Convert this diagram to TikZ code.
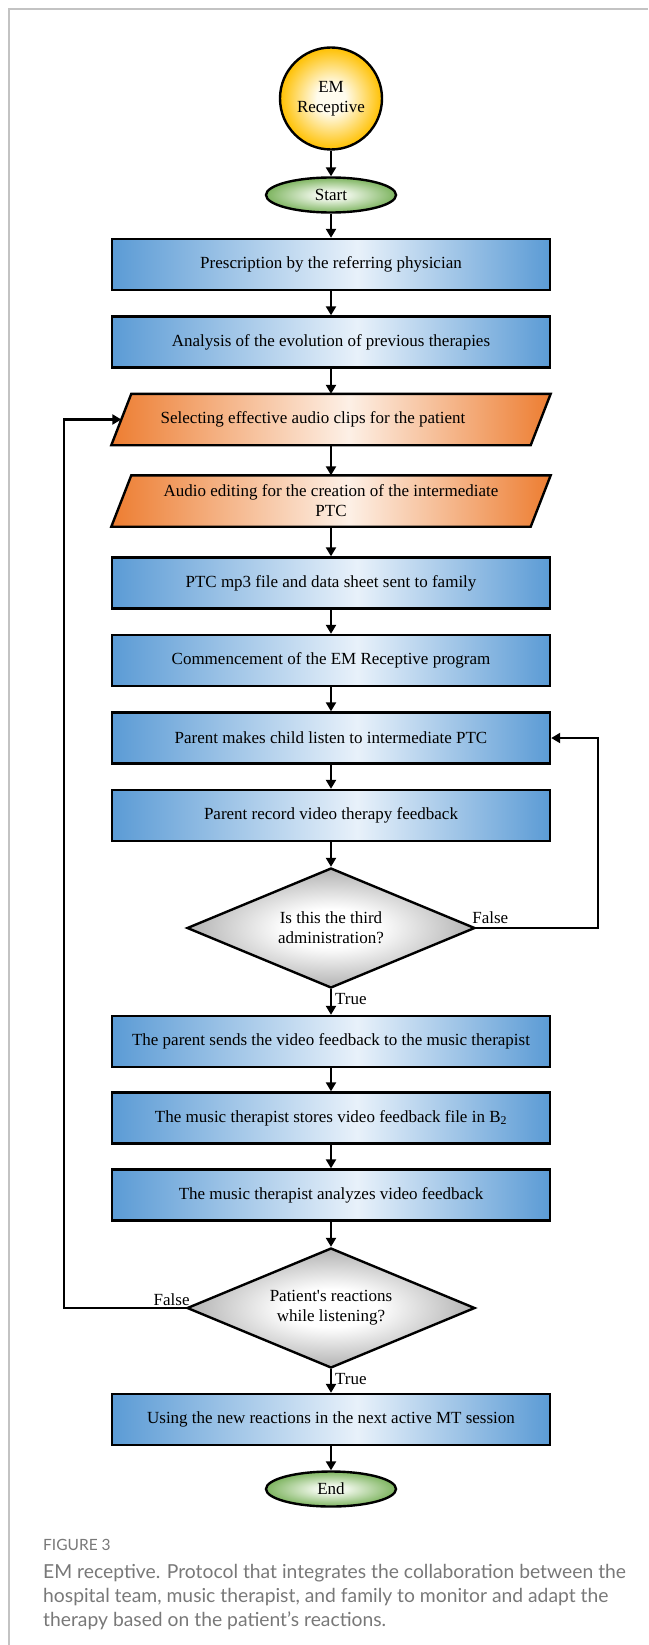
\documentclass[tikz,border=0pt]{standalone}
\usepackage{fontspec}
\setmainfont{Liberation Serif}[Ligatures=TeXOff]
\newfontfamily\capfont{Lato}
\usetikzlibrary{arrows.meta,calc,shapes.geometric,backgrounds}

% palette
\definecolor{boxblue}{RGB}{91,155,213}
\definecolor{boxlight}{RGB}{232,241,250}
\definecolor{paraorange}{RGB}{237,125,49}
\definecolor{paralight}{RGB}{253,240,230}
\definecolor{termgreen}{RGB}{125,180,95}
\definecolor{termlight}{RGB}{238,246,232}
\definecolor{emgold}{RGB}{255,192,0}
\definecolor{emlight}{RGB}{255,252,238}
\definecolor{decgray}{RGB}{178,178,178}
\definecolor{framegray}{RGB}{195,195,195}
\definecolor{capgray}{RGB}{120,120,120}

% fills
\pgfdeclarehorizontalshading{boxshade}{100bp}{color(0bp)=(boxblue); color(25bp)=(boxblue); color(53bp)=(boxlight); color(75bp)=(boxblue); color(100bp)=(boxblue)}
\pgfdeclarehorizontalshading{parashade}{100bp}{color(0bp)=(paraorange); color(25bp)=(paraorange); color(52bp)=(paralight); color(75bp)=(paraorange); color(100bp)=(paraorange)}
\pgfdeclareradialshading{emshade}{\pgfpoint{0bp}{0bp}}{color(0bp)=(emlight); color(7bp)=(emlight); color(25bp)=(emgold); color(50bp)=(emgold)}
\pgfdeclareradialshading{termshade}{\pgfpoint{0bp}{0bp}}{color(0bp)=(termlight); color(6bp)=(termlight); color(25bp)=(termgreen); color(50bp)=(termgreen)}
\pgfdeclareradialshading{decshade}{\pgfpoint{0bp}{0bp}}{color(0bp)=(white); color(8bp)=(white); color(25bp)=(decgray); color(50bp)=(decgray)}

\tikzset{
  x=1pt, y=-1pt,
  txt/.style={font=\fontsize{17}{20}\selectfont},
  stepbox/.style={txt, draw, line width=2.4pt, rectangle, minimum width=438pt,
    minimum height=51pt, inner sep=0pt, shade, shading=boxshade},
  parabox/.style={txt, rectangle, minimum width=419pt, minimum height=51pt, inner sep=0pt},
  paraframe/.style={draw, line width=2.4pt, line join=miter, shade, shading=parashade},
  emnode/.style={txt, draw, line width=2.4pt, circle, minimum size=102pt, inner sep=0pt,
    align=center, shade, shading=emshade},
  termnode/.style={txt, draw, line width=2.4pt, ellipse, minimum width=130pt,
    minimum height=35pt, inner sep=0pt, shade, shading=termshade},
  decnode/.style={txt, draw, line width=2.4pt, diamond, aspect=2.4, minimum width=288pt,
    minimum height=120pt, inner sep=0pt, align=center, shade, shading=decshade},
  arr/.style={line width=2.2pt, -{Triangle[length=9pt,width=10pt]}},
  loop/.style={line width=2.2pt, line join=miter, -{Triangle[length=9pt,width=10pt]}},
  lbl/.style={txt, inner sep=0pt},
  capline/.style={anchor=base west, inner sep=0pt, text=capgray,
    font=\capfont\fontsize{19.3}{24}\selectfont},
}

\begin{document}
\begin{tikzpicture}
\useasboundingbox (0,0) rectangle (648,1645);

% page frame
\draw[framegray, line width=1.5pt] (648,9) -- (9,9) -- (9,1645);

% flow nodes
\node[emnode]   (em)  at (331,98.5)  {EM\\Receptive};
\node[termnode] (st)  at (331,195)   {Start};
\node[stepbox]  (b1)  at (331,264.5) {Prescription by the referring physician};
\node[stepbox]  (b2)  at (331,342)   {Analysis of the evolution of previous therapies};
\node[parabox]  (p1)  at (331,419.5) {Selecting effective audio clips for the patient\hspace*{36pt}};
\node[parabox, align=center] (p2) at (331,501) {Audio editing for the creation of the intermediate\\PTC};
\node[stepbox]  (b3)  at (331,583)   {PTC mp3 file and data sheet sent to family};
\node[stepbox]  (b4)  at (331,660.5) {Commencement of the EM Receptive program};
\node[stepbox]  (pm)  at (331,738)   {Parent makes child listen to intermediate PTC};
\node[stepbox]  (pr)  at (331,815.5) {Parent record video therapy feedback};
\node[decnode]  (d1)  at (331,928)   {Is this the third\\administration?};
\node[stepbox]  (b5)  at (331,1041.5) {The parent sends the video feedback to the music therapist};
\node[stepbox]  (b6)  at (331,1118)  {The music therapist stores video feedback file in B\textsubscript{2}};
\node[stepbox]  (b7)  at (331,1195)  {The music therapist analyzes video feedback};
\node[decnode]  (d2)  at (331,1308)  {Patient's reactions\\while listening?};
\node[stepbox]  (b8)  at (331,1419.5) {Using the new reactions in the next active MT session};
\node[termnode] (en)  at (331,1489)  {End};

% slanted input/output shapes behind their texts
\begin{scope}[on background layer]
  \foreach \p in {p1,p2}{
    \path[paraframe] ($(\p.north west)+(10,0)$) -- ($(\p.north east)+(10,0)$)
      -- ($(\p.south east)+(-10,0)$) -- ($(\p.south west)+(-10,0)$) -- cycle;
  }
\end{scope}

% main flow
\draw[arr] (em) -- (st);
\draw[arr] (st) -- (b1);
\draw[arr] (b1) -- (b2);
\draw[arr] (b2) -- (p1);
\draw[arr] (p1) -- (p2);
\draw[arr] (p2) -- (b3);
\draw[arr] (b3) -- (b4);
\draw[arr] (b4) -- (pm);
\draw[arr] (pm) -- (pr);
\draw[arr] (pr) -- (d1);
\draw[arr] (d1) -- (b5);
\draw[arr] (b5) -- (b6);
\draw[arr] (b6) -- (b7);
\draw[arr] (b7) -- (d2);
\draw[arr] (d2) -- (b8);
\draw[arr] (b8) -- (en);

% feedback loops
\draw[loop] (d1.east) -- ++(122,0) |- (pm.east);
\draw[loop] (d2.west) -- ++(-122,0) |- (p1.west);

% branch labels
\node[lbl, anchor=base west] at ($(d1.east)+(-4,-5)$) {False};
\node[lbl, anchor=base west] at ($(d1.south)+(4,15)$) {True};
\node[lbl, anchor=base east] at ($(d2.west)+(4,-3)$) {False};
\node[lbl, anchor=base west] at ($(d2.south)+(4,15)$) {True};

% caption
\node[capline, font=\capfont\fontsize{15.5}{18}\selectfont] (fig) at (43,1550) {FIGURE 3};
\node[capline] (c1) at (43,1578) {EM receptive. Protocol that integrates the collaboration between the};
\node[capline] (c2) at (43,1602) {hospital team, music therapist, and family to monitor and adapt the};
\node[capline] (c3) at (43,1626) {therapy based on the patient’s reactions.};
\end{tikzpicture}
\end{document}
